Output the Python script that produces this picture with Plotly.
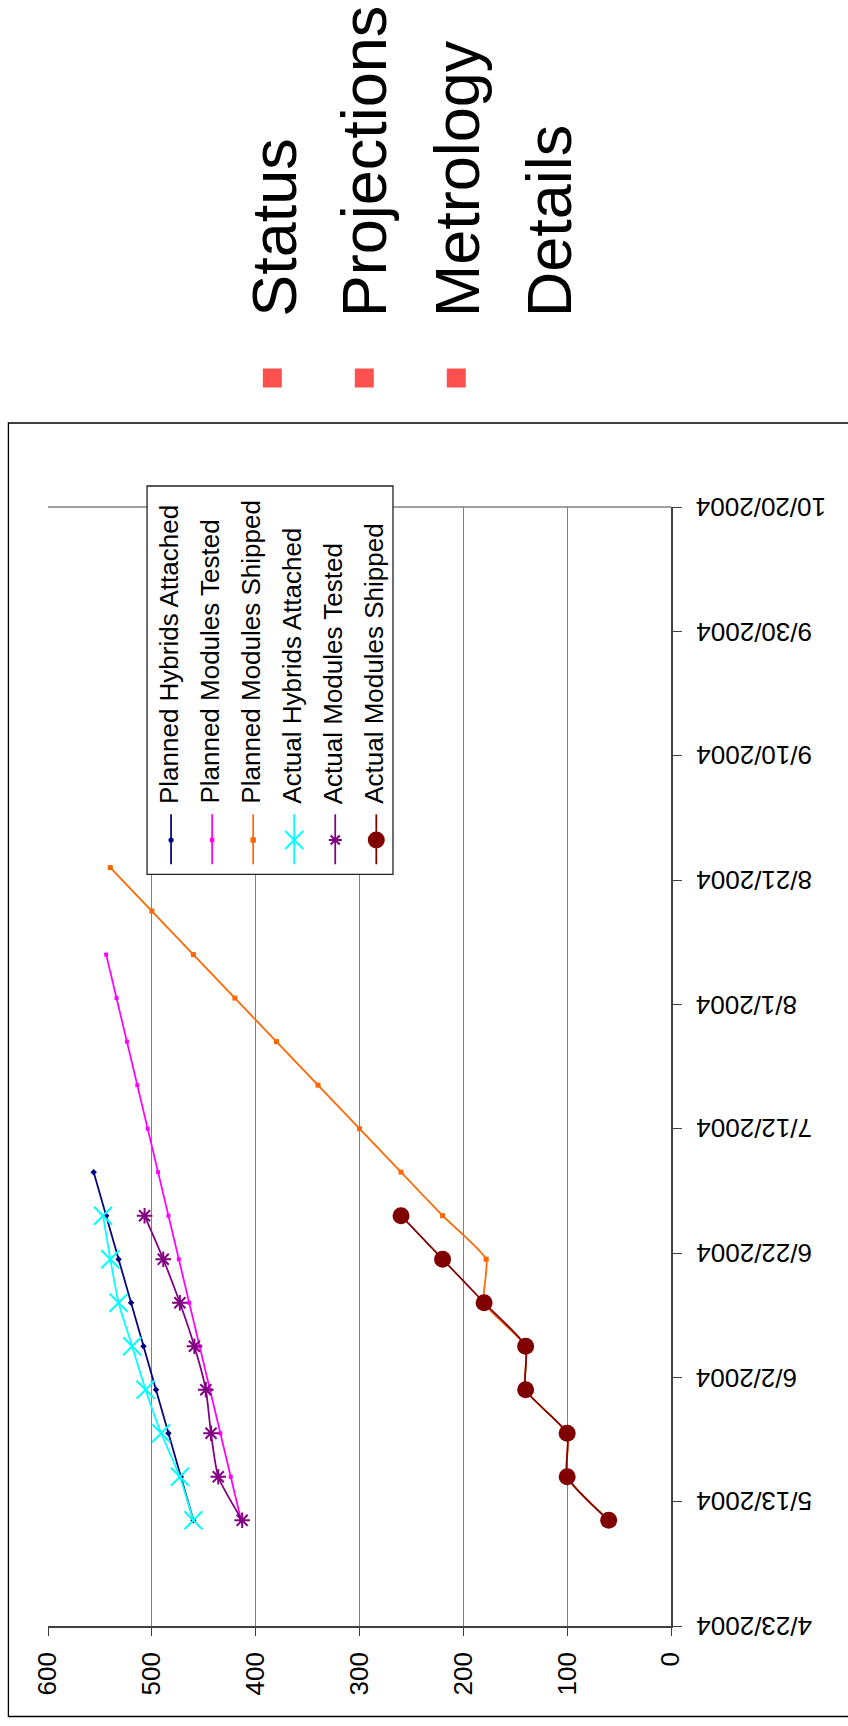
import datetime as dt
import plotly.graph_objects as go

# ---------------- data ----------------
dates_planned_hybrids = ["2004-05-10", "2004-05-17", "2004-05-24", "2004-05-31", "2004-06-07",
                         "2004-06-14", "2004-06-21", "2004-06-28", "2004-07-05"]
planned_hybrids = [460, 472, 484, 496, 508, 520, 532, 544, 556]

dates_planned_tested = ["2004-05-10", "2004-05-17", "2004-05-24", "2004-05-31", "2004-06-07",
                        "2004-06-14", "2004-06-21", "2004-06-28", "2004-07-05", "2004-07-12",
                        "2004-07-19", "2004-07-26", "2004-08-02", "2004-08-09"]
planned_tested = [414, 424, 434, 444, 454, 464, 474, 484, 494, 504, 514, 524, 534, 544]

dates_planned_shipped = ["2004-05-10", "2004-05-17", "2004-05-24", "2004-05-31", "2004-06-07",
                         "2004-06-14", "2004-06-21", "2004-06-28", "2004-07-05", "2004-07-12",
                         "2004-07-19", "2004-07-26", "2004-08-02", "2004-08-09", "2004-08-16",
                         "2004-08-23"]
planned_shipped = [60, 100, 100, 140, 140, 180, 178, 220, 260, 300, 340, 380, 420, 460, 500, 540]

dates_actual = ["2004-05-10", "2004-05-17", "2004-05-24", "2004-05-31", "2004-06-07",
                "2004-06-14", "2004-06-21", "2004-06-28"]
actual_hybrids = [460, 473, 491, 506, 519, 532, 540, 547]
actual_tested = [413, 436, 443, 448, 459, 473, 489, 507]
actual_shipped = [60, 100, 100, 140, 140, 180, 220, 260]

series_names = ["Planned Hybrids Attached", "Planned Modules Tested", "Planned Modules Shipped",
                "Actual Hybrids Attached", "Actual Modules Tested", "Actual Modules Shipped"]

date_ticks = ["2004-04-23", "2004-05-13", "2004-06-02", "2004-06-22", "2004-07-12",
              "2004-08-01", "2004-08-21", "2004-09-10", "2004-09-30", "2004-10-20"]
date_tick_labels = ["4/23/2004", "5/13/2004", "6/2/2004", "6/22/2004", "7/12/2004",
                    "8/1/2004", "8/21/2004", "9/10/2004", "9/30/2004", "10/20/2004"]

bullet_items = ["Status", "Projections", "Metrology", "Details"]

# ---------------- layout geometry (pixels) ----------------
W, H = 848, 1726
L, R, T, B = 47.6, 670.8, 507.0, 1626.0
FONT = "Liberation Sans, Arial, sans-serif"


def xp(px):
    return (px - L) / (R - L)


def yp(py):
    return (B - py) / (B - T)


d_start = dt.date(2004, 4, 23)
d_end = dt.date(2004, 10, 20)


def date_frac(s):
    d = dt.date.fromisoformat(s)
    return (d - d_start).days / (d_end - d_start).days


colors = ["#000080", "#FF00FF", "#FF6600", "#00FFFF", "#800080", "#800000"]

fig = go.Figure()

fig.add_trace(go.Scatter(x=planned_hybrids, y=dates_planned_hybrids, mode="lines+markers",
                         name=series_names[0], line=dict(color=colors[0], width=1.75),
                         marker=dict(symbol="diamond", size=5, color=colors[0])))
fig.add_trace(go.Scatter(x=planned_tested, y=dates_planned_tested, mode="lines+markers",
                         name=series_names[1], line=dict(color=colors[1], width=1.75),
                         marker=dict(symbol="square", size=4, color=colors[1])))
fig.add_trace(go.Scatter(x=planned_shipped, y=dates_planned_shipped, mode="lines+markers",
                         name=series_names[2], line=dict(color=colors[2], width=1.75, shape="spline", smoothing=0.5),
                         marker=dict(symbol="square", size=5, color=colors[2])))
fig.add_trace(go.Scatter(x=actual_hybrids, y=dates_actual, mode="lines+markers",
                         name=series_names[3], line=dict(color=colors[3], width=1.75, shape="spline", smoothing=0.5),
                         marker=dict(symbol="x-thin-open", size=18, color=colors[3],
                                     line=dict(color=colors[3], width=2))))
fig.add_trace(go.Scatter(x=actual_tested, y=dates_actual, mode="lines+markers",
                         name=series_names[4], line=dict(color=colors[4], width=1.75, shape="spline", smoothing=0.6),
                         marker=dict(symbol="asterisk-open", size=13, color=colors[4],
                                     line=dict(color=colors[4], width=2))))
fig.add_trace(go.Scatter(x=actual_shipped, y=dates_actual, mode="lines+markers",
                         name=series_names[5], line=dict(color=colors[5], width=1.75, shape="spline", smoothing=0.5),
                         marker=dict(symbol="circle", size=17, color=colors[5])))

shapes = []
annotations = []

# plot-area top border
shapes.append(dict(type="line", xref="paper", yref="paper", x0=0, x1=1, y0=1, y1=1,
                   line=dict(color="#808080", width=1.3)))
# outer chart border
shapes.append(dict(type="rect", xref="paper", yref="paper", x0=xp(8), x1=xp(900),
                   y0=yp(1716.5), y1=yp(423), line=dict(color="black", width=1.3)))

# legend box
shapes.append(dict(type="rect", xref="paper", yref="paper", x0=xp(146.7), x1=xp(392.7),
                   y0=yp(874.3), y1=yp(486), fillcolor="white", line=dict(color="#222222", width=1.3),
                   layer="above"))
leg_x0, leg_dx = 170.7, 41.06
for i, name in enumerate(series_names):
    cx = leg_x0 + i * leg_dx
    c = colors[i]
    shapes.append(dict(type="line", xref="paper", yref="paper", x0=xp(cx), x1=xp(cx),
                       y0=yp(864.3), y1=yp(814.3), line=dict(color=c, width=1.75), layer="above"))
    cy = 840
    if i == 0:
        r = 2.6
        shapes.append(dict(type="circle", xref="paper", yref="paper", x0=xp(cx - r), x1=xp(cx + r),
                           y0=yp(cy + r), y1=yp(cy - r), fillcolor=c, line=dict(width=0), layer="above"))
    elif i in (1, 2):
        r = 2.2 if i == 1 else 2.7
        shapes.append(dict(type="rect", xref="paper", yref="paper", x0=xp(cx - r), x1=xp(cx + r),
                           y0=yp(cy + r), y1=yp(cy - r), fillcolor=c, line=dict(width=0), layer="above"))
    elif i == 3:
        r = 9
        for sgn in (1, -1):
            shapes.append(dict(type="line", xref="paper", yref="paper", x0=xp(cx - r), x1=xp(cx + r),
                               y0=yp(cy - sgn * r), y1=yp(cy + sgn * r),
                               line=dict(color=c, width=2), layer="above"))
    elif i == 4:
        r = 6.5
        segs = [(-r, 0, r, 0), (-0.7 * r, -0.7 * r, 0.7 * r, 0.7 * r), (-0.7 * r, 0.7 * r, 0.7 * r, -0.7 * r)]
        for ax0, ay0, ax1, ay1 in segs:
            shapes.append(dict(type="line", xref="paper", yref="paper", x0=xp(cx + ax0), x1=xp(cx + ax1),
                               y0=yp(cy + ay0), y1=yp(cy + ay1),
                               line=dict(color=c, width=2), layer="above"))
    else:
        r = 8.5
        shapes.append(dict(type="circle", xref="paper", yref="paper", x0=xp(cx - r), x1=xp(cx + r),
                           y0=yp(cy + r), y1=yp(cy - r), fillcolor=c, line=dict(width=0), layer="above"))
    annotations.append(dict(text=name, xref="paper", yref="paper", x=xp(cx - 2.5), y=yp(806),
                            xanchor="center", yanchor="bottom", textangle=-90, showarrow=False,
                            font=dict(family=FONT, size=26, color="black")))

# date tick labels (upside down)
for d, lab in zip(date_ticks, date_tick_labels):
    annotations.append(dict(text=lab, xref="paper", yref="paper", x=1, y=date_frac(d),
                            xanchor="left", yanchor="middle", xshift=23, textangle=180,
                            showarrow=False, font=dict(family=FONT, size=26, color="black")))

# bullet list at top
bullet_x = [273, 364, 456.5, 548.5]
for i, item in enumerate(bullet_items):
    annotations.append(dict(text=item, xref="paper", yref="paper", x=xp(bullet_x[i]), y=yp(319),
                            xanchor="center", yanchor="bottom", textangle=-90, showarrow=False,
                            font=dict(family=FONT, size=63, color="black")))
for bx in [272, 364, 456]:
    shapes.append(dict(type="rect", xref="paper", yref="paper", x0=xp(bx - 9.5), x1=xp(bx + 9.5),
                       y0=yp(378 + 9.5), y1=yp(378 - 9.5), fillcolor="#FF5050", line=dict(width=0)))

fig.update_layout(
    width=W, height=H,
    margin=dict(l=L, r=W - R, t=T, b=H - B, pad=0),
    paper_bgcolor="white", plot_bgcolor="white",
    showlegend=False,
    font=dict(family=FONT, size=26, color="black"),
    shapes=shapes, annotations=annotations,
    xaxis=dict(range=[600, 0], tick0=0, dtick=100, showgrid=True, gridcolor="#808080", gridwidth=1,
               zeroline=False, showline=True, linecolor="#404040", linewidth=1.5,
               ticks="outside", ticklen=8, tickcolor="#404040", tickwidth=1.3,
               tickangle=-90, tickfont=dict(family=FONT, size=26, color="black"),
               automargin=False, ticklabelstandoff=6),
    yaxis=dict(type="date", range=[date_ticks[0], date_ticks[-1]], side="right",
               tickmode="array", tickvals=date_ticks, showticklabels=False,
               showgrid=False, zeroline=False, showline=True, linecolor="#404040", linewidth=1.5,
               ticks="outside", ticklen=9, tickcolor="#404040", tickwidth=1.3, automargin=False),
)

fig.write_html(
    "out.html",
    config={"displayModeBar": False},
    post_script="document.body.style.margin='0px';document.body.style.padding='0px';"
                "document.body.style.overflow='hidden';",
)
